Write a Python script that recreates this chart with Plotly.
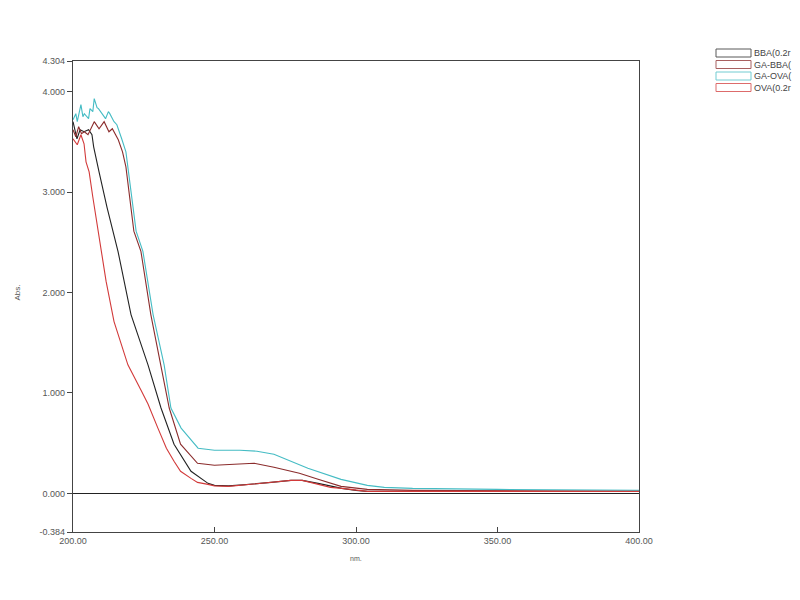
import plotly.graph_objects as go

# ---- data ----
bba_x = [200, 201.4, 202.5, 203.9, 205.5, 206.7, 207.3, 208.1, 209.2, 212, 214.1, 215.9, 220.5,
         226.5, 231.1, 235.7, 241.7, 247.7, 250, 255, 260, 265, 270, 277, 281, 286.6, 291, 295,
         300, 304, 310, 350, 400]
bba_y = [3.70, 3.53, 3.62, 3.60, 3.62, 3.57, 3.45, 3.33, 3.20, 2.85, 2.61, 2.41, 1.78,
         1.28, 0.85, 0.49, 0.22, 0.10, 0.08, 0.075, 0.085, 0.095, 0.11, 0.13, 0.13, 0.10, 0.07, 0.05,
         0.03, 0.02, 0.02, 0.02, 0.02]

gabba_x = [200, 201, 202, 203, 204, 205.3, 207.5, 209.2, 211, 212.7, 213.9, 216, 217.5, 218.7,
           221.5, 224, 227.5, 231.1, 234, 238, 244, 250, 259, 264, 271, 280, 286.6, 294.7,
           304, 320, 400]
gabba_y = [3.62, 3.55, 3.65, 3.58, 3.60, 3.57, 3.70, 3.63, 3.70, 3.60, 3.63, 3.52, 3.40, 3.25,
           2.61, 2.41, 1.78, 1.28, 0.85, 0.49, 0.30, 0.28, 0.29, 0.30, 0.26, 0.20, 0.14, 0.07,
           0.04, 0.03, 0.02]

gaova_x = [200, 201, 201.5, 202.8, 203.5, 204, 205.5, 206, 207, 207.5, 208.5, 209, 210.5, 211.5,
           212.5, 213, 214.5, 215.5, 217.2, 218.7, 222.3, 224.7, 228.3, 232.2, 234.6, 238.2,
           244.2, 250, 259, 265, 271, 283, 294.7, 304, 310, 320, 350, 400]
gaova_y = [3.72, 3.78, 3.70, 3.87, 3.75, 3.78, 3.73, 3.83, 3.80, 3.93, 3.84, 3.83, 3.77, 3.73,
           3.80, 3.78, 3.70, 3.67, 3.53, 3.40, 2.61, 2.41, 1.78, 1.28, 0.85, 0.65,
           0.45, 0.43, 0.43, 0.42, 0.39, 0.25, 0.14, 0.08, 0.06, 0.05, 0.04, 0.03]

ova_x = [200, 201.5, 202.8, 203.9, 204.6, 205.7, 207, 208.8, 209.9, 211.7, 214.5, 219.4, 224,
         226.5, 230, 233, 235.7, 238, 241.7, 244, 247.7, 250, 255, 260, 265, 270, 277, 281,
         286.6, 291, 295, 300, 304, 310, 400]
ova_y = [3.53, 3.47, 3.57, 3.48, 3.30, 3.20, 2.95, 2.61, 2.41, 2.11, 1.71, 1.28, 1.03,
         0.89, 0.65, 0.45, 0.32, 0.22, 0.15, 0.11, 0.09, 0.075, 0.07, 0.085, 0.095, 0.11, 0.13, 0.13,
         0.09, 0.06, 0.05, 0.03, 0.02, 0.02, 0.02]

series_names = ["BBA(0.2r", "GA-BBA(", "GA-OVA(", "OVA(0.2r"]
series_colors = ["#222222", "#8b2c2c", "#45bcc4", "#d23a3a"]

y_tickvals = [-0.384, 0, 1, 2, 3, 4, 4.304]
y_ticktext = ["-0.384", "0.000", "1.000", "2.000", "3.000", "4.000", "4.304"]
x_tickvals = [200, 250, 300, 350, 400]
x_ticktext = ["200.00", "250.00", "300.00", "350.00", "400.00"]

FONT = "Liberation Sans, Arial, sans-serif"
TXT = "#555555"

fig = go.Figure()
for xs, ys, name, col in zip([bba_x, gabba_x, gaova_x, ova_x],
                             [bba_y, gabba_y, gaova_y, ova_y],
                             series_names, series_colors):
    fig.add_trace(go.Scatter(x=xs, y=ys, mode="lines", name=name,
                             line=dict(color=col, width=1.1), showlegend=False))

# page offset (body margin) compensation
OFF = 7
# target plot box in screen pixels
L, R, T, B = 72, 638, 60, 531
W, H = R - L, B - T
def px2paper_x(p): return (p - L) / W
def px2paper_y(p): return (B - p) / H

row_y = [52, 63.5, 75, 86.5]
for name, col, py in zip(series_names, series_colors, row_y):
    fig.add_shape(type="rect", xref="paper", yref="paper",
                  x0=px2paper_x(715), x1=px2paper_x(750),
                  y0=px2paper_y(py + 4), y1=px2paper_y(py - 4),
                  line=dict(color=col, width=1), fillcolor="white", opacity=0.75)
    fig.add_annotation(x=px2paper_x(751), y=px2paper_y(py), xref="paper", yref="paper",
                       text=name, showarrow=False, xanchor="left", yanchor="middle",
                       font=dict(family=FONT, size=9, color="#444444"))

# axis titles
fig.add_annotation(x=300, y=px2paper_y(557), xref="x", yref="paper", text="nm.",
                   showarrow=False, yanchor="middle", font=dict(family=FONT, size=7, color=TXT))
fig.add_annotation(x=px2paper_x(9), y=px2paper_y(292), xref="paper", yref="paper", text="Abs.",
                   showarrow=False, textangle=-90, font=dict(family=FONT, size=8, color=TXT))

fig.update_layout(
    width=800, height=600,
    margin=dict(l=L - OFF, r=800 - R + OFF, t=T - OFF, b=600 - B + OFF),
    paper_bgcolor="white", plot_bgcolor="white",
    font=dict(family=FONT, size=9, color=TXT),
    showlegend=False,
)
fig.update_xaxes(range=[200, 400], tickvals=x_tickvals, ticktext=x_ticktext,
                 ticks="inside", ticklen=5, tickcolor="#444444",
                 showline=True, linecolor="#444444", linewidth=1.2, mirror=True,
                 showgrid=False, zeroline=False, tickfont=dict(size=9, color=TXT))
fig.update_yaxes(range=[-0.384, 4.304], tickvals=y_tickvals, ticktext=y_ticktext,
                 ticks="outside", ticklen=5, tickcolor="#444444",
                 showline=True, linecolor="#444444", linewidth=1.2, mirror=True,
                 showgrid=False, zeroline=True, zerolinecolor="#222222", zerolinewidth=1.2,
                 tickfont=dict(size=9, color=TXT))

fig.write_html("out.html")
